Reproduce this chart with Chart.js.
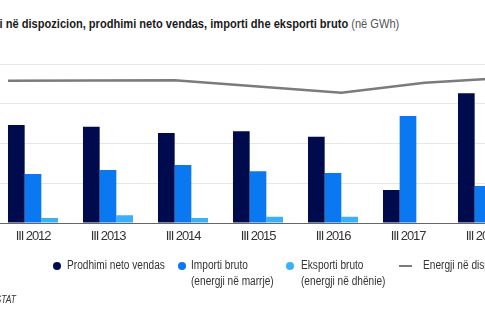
<!DOCTYPE html>
<html>
<head>
<meta charset="utf-8">
<script src="https://cdn.jsdelivr.net/npm/chart.js@4/dist/chart.umd.min.js"></script>
<style>
  html, body { margin:0; padding:0; width:485px; height:325px; overflow:hidden; background:#fff; position:relative;
    font-family:"Liberation Sans", Arial, sans-serif; color:#333; }
  #title { position:absolute; top:17px; left:0; white-space:nowrap; font-size:12.5px; line-height:14px; font-weight:bold; color:#1a1a1a;
    transform:scaleX(0.887); transform-origin:0 0; }
  #title .unit { font-weight:normal; color:#555; }
  #wrap { position:absolute; left:-20px; top:50px; width:560px; height:210px; }
  .lg { position:absolute; top:258px; font-size:12.5px; line-height:15.5px; white-space:nowrap; color:#333;
    transform:scaleX(0.81); transform-origin:0 0; }
  .dot { position:absolute; width:8px; height:8px; border-radius:50%; top:262px; }
  .dash { position:absolute; width:13px; height:2px; top:265px; }
  #src { position:absolute; right:469px; top:294px; font-size:10px; font-style:italic; color:#333; white-space:nowrap;
    transform:scaleX(0.85); transform-origin:100% 0; }
</style>
</head>
<body>
<div id="title"><span id="cut">Energj</span>i në dispozicion, prodhimi neto vendas, importi dhe eksporti bruto <span class="unit">(në GWh)</span></div>
<div id="wrap"><canvas id="c"></canvas></div>
<div id="legend"></div>
<div id="src">Burimi: INSTAT</div>
<script>
// ---- data (GWh, third quarter of each year) ----
const categories = ["III 2012","III 2013","III 2014","III 2015","III 2016","III 2017","III 2018"];
const prodhimi   = [1233, 1211, 1132, 1153, 1086, 415, 1631];
const importi    = [616, 667, 730, 650, 629, 1346, 465];
const eksporti   = [63, 97, 63, 79, 79, 0, 270];
const energji    = [1790, 1792, 1795, 1717, 1639, 1765, 1826];
const yTicks     = [0, 500, 1000, 1500, 2000];

const seriesNames = ["Prodhimi neto vendas", ["Importi bruto","(energji në marrje)"], ["Eksporti bruto","(energji në dhënie)"], "Energji në dispozicion"];
const colors = ["#000b4d", "#0a78f0", "#3cb0f7", "#7b7b7b"];

// title offset so the cut word starts off-page
const cut = document.getElementById('cut');
document.getElementById('title').style.left = (-cut.offsetWidth * 0.887) + 'px';

// legend (HTML)
const legend = document.getElementById('legend');
const lgPos = [{m:57, t:67}, {m:182, t:191}, {m:290, t:301}, {m:399, t:423}];
seriesNames.forEach((n, i) => {
  const mk = document.createElement('div');
  if (i < 3) { mk.className = 'dot'; mk.style.left = (lgPos[i].m - 4) + 'px'; mk.style.background = colors[i]; }
  else { mk.className = 'dash'; mk.style.left = lgPos[i].m + 'px'; mk.style.background = colors[i]; }
  legend.appendChild(mk);
  const t = document.createElement('div');
  t.className = 'lg'; t.style.left = lgPos[i].t + 'px';
  t.innerHTML = Array.isArray(n) ? n.join('<br>') : n;
  legend.appendChild(t);
});

const barOpts = { indexAxis: 'x', categoryPercentage: 0.667, barPercentage: 1.0, order: 1, borderWidth: 0 };

new Chart(document.getElementById('c'), {
  data: {
    labels: categories,
    datasets: [
      { type:'line', indexAxis:'x', label:'Energji në dispozicion', xAxisID:'xl', order:0,
        data: energji.map((v, i) => ({x:i, y:v})),
        borderColor: colors[3], borderWidth: 2.5, pointRadius: 0, tension: 0 },
      Object.assign({ type:'bar', label:'Prodhimi neto vendas', data: prodhimi, backgroundColor: colors[0] }, barOpts),
      Object.assign({ type:'bar', label:'Importi bruto', data: importi, backgroundColor: colors[1] }, barOpts),
      Object.assign({ type:'bar', label:'Eksporti bruto', data: eksporti, backgroundColor: colors[2] }, barOpts)
    ]
  },
  plugins: [{ id:'narrowText', beforeDraw: c => { c.ctx.letterSpacing = '-1.1px'; } }],
  options: {
    indexAxis: 'y',   // chart-level; every dataset sets its own indexAxis 'x'
    responsive: true, maintainAspectRatio: false, animation: false,
    layout: { padding: { left: 15.5, right: 19.5, top: 14, bottom: 4 } },
    plugins: { legend: { display:false }, tooltip: { enabled:false } },
    scales: {
      x: { type:'category', axis:'x', position:'bottom', offset:true,
           afterFit: s => { s.height = 33; },
           grid: { display:false, drawTicks:false, offset:true },
           border: { display:true, color:'#666', width:1 },
           ticks: { color:'#333', padding:6, maxRotation:0, font:{ family:"'Liberation Sans',Arial,sans-serif", size:13 } } },
      xl: { type:'linear', axis:'x', position:'bottom', display:false, offset:false, min:-0.15, max:6.15 },
      y: { type:'linear', axis:'y', position:'left', offset:false,
           min: yTicks[0], max: yTicks[yTicks.length-1],
           afterBuildTicks: s => { s.ticks = yTicks.map(v => ({value:v})); },
           afterFit: s => { s.width = 0; },
           ticks: { display:false },
           grid: { color:'#e6e6e6', drawTicks:false, lineWidth:1, offset:false },
           border: { display:false } }
    }
  }
});
</script>
</body>
</html>
